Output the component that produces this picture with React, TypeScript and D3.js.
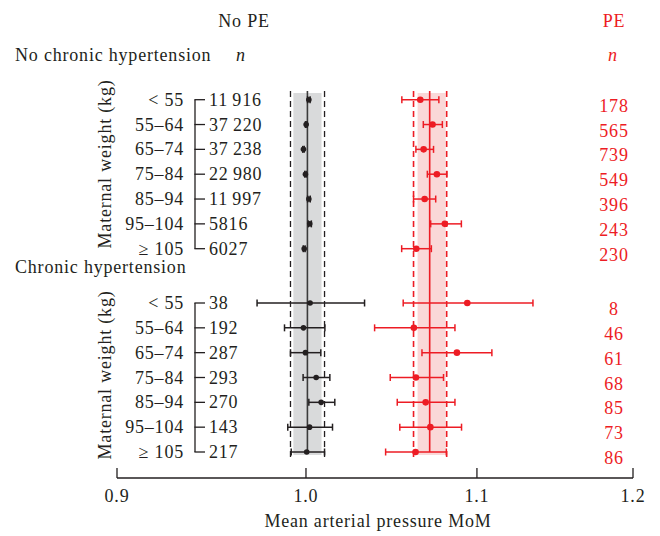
import React from "react";
import * as d3 from "d3";

const categories = ["< 55", "55–64", "65–74", "75–84", "85–94", "95–104", "≥ 105"];

const noChtnNoPeN = ["11\u2009916", "37\u2009220", "37\u2009238", "22\u2009980", "11\u2009997", "5816", "6027"];
const noChtnPeN = ["178", "565", "739", "549", "396", "243", "230"];
const chtnNoPeN = ["38", "192", "287", "293", "270", "143", "217"];
const chtnPeN = ["8", "46", "61", "68", "85", "73", "86"];

const noChtnNoPeMean = [1.0016, 1.0001, 0.9986, 0.9997, 1.0016, 1.0021, 0.999];
const noChtnNoPeLo = [1.0009, 0.9997, 0.9982, 0.9993, 1.0009, 1.0013, 0.9985];
const noChtnNoPeHi = [1.0023, 1.0005, 0.999, 1.0001, 1.0024, 1.003, 0.9995];

const noChtnPeMean = [1.0658, 1.0731, 1.0678, 1.0757, 1.0684, 1.0805, 1.0634];
const noChtnPeLo = [1.0549, 1.0676, 1.0632, 1.07, 1.0618, 1.072, 1.0548];
const noChtnPeHi = [1.0769, 1.079, 1.0737, 1.0817, 1.075, 1.0905, 1.0724];

const chtnNoPeMean = [1.0023, 0.9986, 0.9997, 1.0057, 1.0085, 1.002, 1.0004];
const chtnNoPeLo = [0.9731, 0.9881, 0.9914, 0.9984, 1.0016, 0.9899, 0.9918];
const chtnNoPeHi = [1.0332, 1.0106, 1.0083, 1.0134, 1.0162, 1.0149, 1.0104];

const chtnPeMean = [1.0941, 1.062, 1.0878, 1.0632, 1.069, 1.0718, 1.063];
const chtnPeLo = [1.0557, 1.039, 1.0668, 1.0481, 1.0522, 1.0537, 1.0454];
const chtnPeHi = [1.1349, 1.0866, 1.1092, 1.0797, 1.0866, 1.0906, 1.0814];

// reference: [median, band low, band high, dashed low, dashed high]
const noPeRef = [1.0008, 0.993, 1.0087, 0.9914, 1.0104];
const peRef = [1.0714, 1.0642, 1.081, 1.0618, 1.0816];

const xTicks = [0.9, 1.0, 1.1, 1.2];

const BLACK = "#231f20";
const RED = "#ed1c24";
const FONT = "'Liberation Serif', 'Times New Roman', serif";

export default function App() {
  const x = d3.scaleLog().domain([0.9, 1.2]).range([117, 633]);
  const yTop = d3.scalePoint<string>().domain(categories).range([99.7, 248.7]);
  const yBot = d3.scalePoint<string>().domain(categories).range([303, 452]);

  const txt = { fontFamily: FONT, fontSize: 18, letterSpacing: 0.8 } as const;

  const refBand = (ref: number[], fill: string, line: string, lineCol: string, dash: string, dw: number) => (
    <g>
      <rect x={x(ref[1])} y={93} width={x(ref[2]) - x(ref[1])} height={362} fill={fill} />
      <line x1={x(ref[3])} x2={x(ref[3])} y1={91} y2={458} stroke={lineCol} strokeWidth={dw} strokeDasharray={dash} />
      <line x1={x(ref[4])} x2={x(ref[4])} y1={91} y2={458} stroke={lineCol} strokeWidth={dw} strokeDasharray={dash} />
      <line x1={x(ref[0])} x2={x(ref[0])} y1={91} y2={452} stroke={line} strokeWidth={1.6} />
    </g>
  );

  const series = (
    y: d3.ScalePoint<string>,
    mean: number[],
    lo: number[],
    hi: number[],
    color: string,
    r: number
  ) =>
    categories.map((c, i) => {
      const yy = y(c) as number;
      return (
        <g key={c}>
          <line x1={x(lo[i])} x2={x(hi[i])} y1={yy} y2={yy} stroke={color} strokeWidth={1.5} />
          <line x1={x(lo[i])} x2={x(lo[i])} y1={yy - 3.5} y2={yy + 3.5} stroke={color} strokeWidth={1.5} />
          <line x1={x(hi[i])} x2={x(hi[i])} y1={yy - 3.5} y2={yy + 3.5} stroke={color} strokeWidth={1.5} />
          <circle cx={x(mean[i])} cy={yy} r={r} fill={color} />
        </g>
      );
    });

  const leftBlock = (y: d3.ScalePoint<string>, ns: string[], labelCy: number) => {
    const y0 = y(categories[0]) as number;
    const y1 = y(categories[categories.length - 1]) as number;
    return (
      <g>
        <text
          {...txt}
          fill={BLACK}
          textAnchor="middle"
          transform={`translate(111,${labelCy}) rotate(-90)`}
        >
          Maternal weight (kg)
        </text>
        {categories.map((c) => (
          <text key={c} {...txt} fill={BLACK} x={184} y={(y(c) as number) + 6} textAnchor="end">
            {c}
          </text>
        ))}
        <line x1={195} x2={195} y1={y0} y2={y1} stroke={BLACK} strokeWidth={1.3} />
        {categories.map((c) => (
          <line key={c} x1={194.4} x2={205} y1={y(c) as number} y2={y(c) as number} stroke={BLACK} strokeWidth={1.3} />
        ))}
        {ns.map((n, i) => (
          <text key={i} {...txt} fill={BLACK} x={209} y={(y(categories[i]) as number) + 6}>
            {n}
          </text>
        ))}
      </g>
    );
  };

  const peNs = (y: d3.ScalePoint<string>, ns: string[]) =>
    ns.map((n, i) => (
      <text key={i} {...txt} fill={RED} x={614} y={(y(categories[i]) as number) + 12} textAnchor="middle">
        {n}
      </text>
    ));

  return (
    <svg width={660} height={536} style={{ position: "absolute", left: 0, top: 0, background: "#fff" }}>
      <rect width={660} height={536} fill="#fff" />
      {/* headers */}
      <text {...txt} fill={BLACK} x={244} y={27} textAnchor="middle">No PE</text>
      <text {...txt} fill={RED} x={614} y={27} textAnchor="middle">PE</text>
      <text {...txt} fill={BLACK} x={15} y={61}>No chronic hypertension</text>
      <text {...txt} fill={BLACK} x={241} y={61} textAnchor="middle" fontStyle="italic">n</text>
      <text {...txt} fill={RED} x={613} y={61} textAnchor="middle" fontStyle="italic">n</text>
      <text {...txt} fill={BLACK} x={15} y={273}>Chronic hypertension</text>

      {leftBlock(yTop, noChtnNoPeN, 164)}
      {leftBlock(yBot, chtnNoPeN, 375)}

      {refBand(noPeRef, "#d9dadb", "#3b3b3b", BLACK, "6,4", 1.3)}
      {refBand(peRef, "#fad8d8", RED, RED, "6,4", 1.6)}

      {series(yTop, noChtnNoPeMean, noChtnNoPeLo, noChtnNoPeHi, BLACK, 2.8)}
      {series(yBot, chtnNoPeMean, chtnNoPeLo, chtnNoPeHi, BLACK, 2.8)}
      {series(yTop, noChtnPeMean, noChtnPeLo, noChtnPeHi, RED, 3.3)}
      {series(yBot, chtnPeMean, chtnPeLo, chtnPeHi, RED, 3.3)}

      {peNs(yTop, noChtnPeN)}
      {peNs(yBot, chtnPeN)}

      {/* x axis */}
      <line x1={x(0.9)} x2={x(1.2)} y1={478} y2={478} stroke={BLACK} strokeWidth={1.3} />
      {xTicks.map((t) => (
        <g key={t}>
          <line x1={x(t)} x2={x(t)} y1={468} y2={478} stroke={BLACK} strokeWidth={1.3} />
          <text {...txt} fill={BLACK} x={x(t)} y={502} textAnchor="middle">
            {d3.format(".1f")(t)}
          </text>
        </g>
      ))}
      <text {...txt} fill={BLACK} x={378} y={527} textAnchor="middle">
        Mean arterial pressure MoM
      </text>
    </svg>
  );
}
